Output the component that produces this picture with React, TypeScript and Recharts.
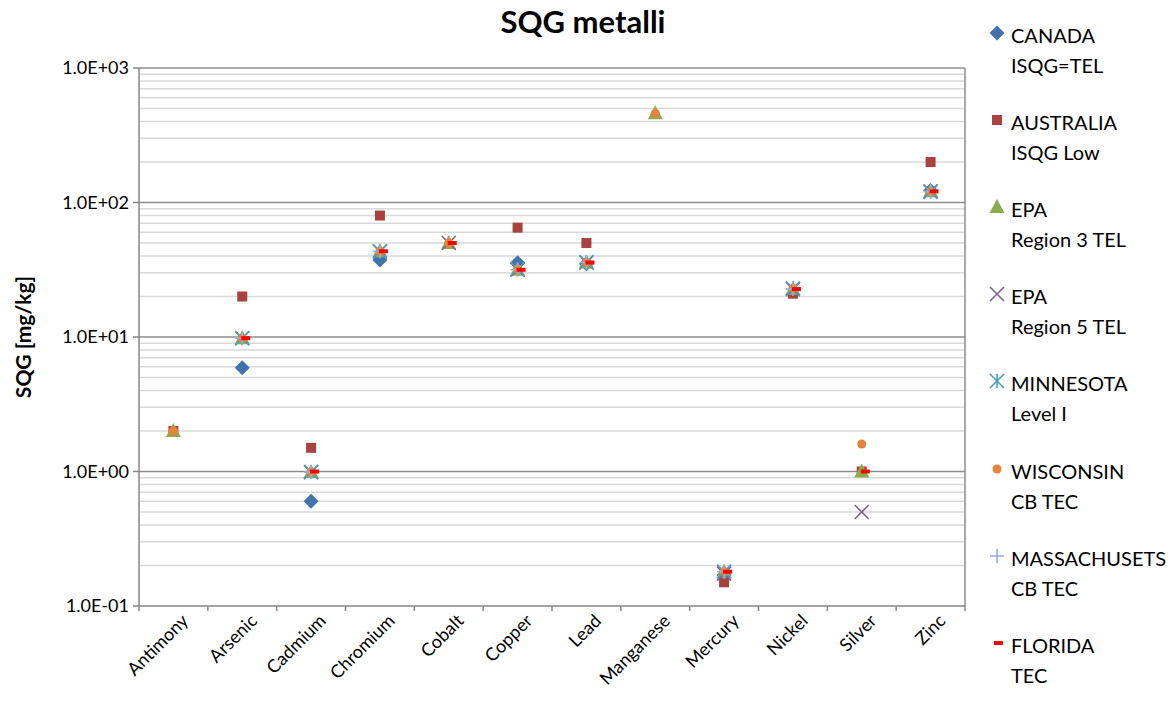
import React from 'react';
import {
  ScatterChart,
  Scatter,
  XAxis,
  YAxis,
  ReferenceLine,
} from 'recharts';

const FONT = "Lato, 'Liberation Sans', sans-serif";

// categories and values (mg/kg), null = no guideline
const metals = [
  'Antimony', 'Arsenic', 'Cadmium', 'Chromium', 'Cobalt', 'Copper',
  'Lead', 'Manganese', 'Mercury', 'Nickel', 'Silver', 'Zinc',
];
const canada = [null, 5.9, 0.6, 37.3, null, 35.7, 35, null, 0.17, null, null, 123];
const australia = [2, 20, 1.5, 80, null, 65, 50, null, 0.15, 21, 1, 200];
const epaRegion3 = [2, 9.8, 0.99, 43.4, 50, 31.6, 35.8, 460, 0.18, 22.7, 1, 121];
const epaRegion5 = [null, 9.79, 0.99, 43.4, 50, 31.6, 35.8, null, 0.174, 22.7, 0.5, 121];
const minnesota = [null, 9.8, 0.99, 43, null, 32, 36, null, 0.18, 23, null, 120];
const wisconsin = [2, 9.8, 0.99, 43, 50, 32, 36, 460, 0.18, 23, 1.6, 120];
const massachusetts = [null, 9.79, 0.99, 43.4, null, 31.6, 35.8, null, 0.18, 22.7, null, 121];
const florida = [null, 9.8, 1, 43.4, 50, 31.6, 35.8, null, 0.18, 22.7, 1, 121];

const majorTicks = [0.1, 1, 10, 100, 1000];
const minorTicks = [
  0.2, 0.3, 0.4, 0.5, 0.6, 0.7, 0.8, 0.9,
  2, 3, 4, 5, 6, 7, 8, 9,
  20, 30, 40, 50, 60, 70, 80, 90,
  200, 300, 400, 500, 600, 700, 800, 900,
];

const toPoints = (values: (number | null)[]) =>
  values
    .map((v, i) => ({ x: i + 0.5, y: v, name: metals[i] }))
    .filter((p) => p.y !== null);

// marker shapes, Excel style
type MP = { cx?: number; cy?: number };
const ok = (p: MP) => Number.isFinite(p.cx) && Number.isFinite(p.cy);

const Diamond = (p: MP) =>
  ok(p) ? (
    <path
      d={`M${p.cx! - 7.5},${p.cy!} L${p.cx!},${p.cy! - 7.5} L${p.cx! + 7.5},${p.cy!} L${p.cx!},${p.cy! + 7.5} Z`}
      fill="#4272AE"
    />
  ) : <g />;
const Square = (p: MP) =>
  ok(p) ? <rect x={p.cx! - 5} y={p.cy! - 5} width={10} height={10} fill="#A8423F" /> : <g />;
const Triangle = (p: MP) =>
  ok(p) ? (
    <path
      d={`M${p.cx! - 7.5},${p.cy! + 6} L${p.cx!},${p.cy! - 8} L${p.cx! + 7.5},${p.cy! + 6} Z`}
      fill="#8CAB4C"
    />
  ) : <g />;
const Cross = (p: MP) =>
  ok(p) ? (
    <path
      d={`M${p.cx! - 7},${p.cy! - 7} L${p.cx! + 7},${p.cy! + 7} M${p.cx! - 7},${p.cy! + 7} L${p.cx! + 7},${p.cy! - 7}`}
      stroke="#7D5F9E"
      strokeWidth={1.6}
    />
  ) : <g />;
const Star = (p: MP) =>
  ok(p) ? (
    <path
      d={`M${p.cx! - 7},${p.cy! - 7} L${p.cx! + 7},${p.cy! + 7} M${p.cx! - 7},${p.cy! + 7} L${p.cx! + 7},${p.cy! - 7} M${p.cx!},${p.cy! - 7} L${p.cx!},${p.cy! + 7}`}
      stroke="#4BA0BE"
      strokeWidth={1.6}
    />
  ) : <g />;
const Dot = (p: MP) =>
  ok(p) ? <circle cx={p.cx} cy={p.cy} r={4.5} fill="#E2843B" /> : <g />;
const Plus = (p: MP) =>
  ok(p) ? (
    <path
      d={`M${p.cx! - 7},${p.cy!} L${p.cx! + 7},${p.cy!} M${p.cx!},${p.cy! - 7} L${p.cx!},${p.cy! + 7}`}
      stroke="#94AFD4"
      strokeWidth={1.6}
    />
  ) : <g />;
const Dash = (p: MP) =>
  ok(p) ? <rect x={p.cx! - 1} y={p.cy! - 2} width={9} height={4} fill="#FF0000" /> : <g />;

const series = [
  { name: 'CANADA', sub: 'ISQG=TEL', values: canada, shape: Diamond },
  { name: 'AUSTRALIA', sub: 'ISQG Low', values: australia, shape: Square },
  { name: 'EPA', sub: 'Region 3 TEL', values: epaRegion3, shape: Triangle },
  { name: 'EPA', sub: 'Region 5 TEL', values: epaRegion5, shape: Cross },
  { name: 'MINNESOTA', sub: 'Level I', values: minnesota, shape: Star },
  { name: 'WISCONSIN', sub: 'CB TEC', values: wisconsin, shape: Dot },
  { name: 'MASSACHUSETS', sub: 'CB TEC', values: massachusetts, shape: Plus },
  { name: 'FLORIDA', sub: 'TEC', values: florida, shape: Dash },
];

const formatSci = (v: number) => {
  const [m, e] = v.toExponential(1).split('e');
  const n = Number(e);
  return `${m}E${n < 0 ? '-' : '+'}${String(Math.abs(n)).padStart(2, '0')}`;
};

// integer positions get a tick mark, half positions get the rotated name
const XTick = ({ x, y, payload }: any) => {
  const v = payload.value as number;
  if (Number.isInteger(v)) {
    return <line x1={x} y1={y} x2={x} y2={y + 5} stroke="#868686" strokeWidth={1.5} />;
  }
  const name = metals[Math.floor(v)];
  const tx = x + 16;
  const ty = y + 16;
  return (
    <text
      x={tx}
      y={ty}
      textAnchor="end"
      transform={`rotate(-45, ${tx}, ${ty})`}
      fontSize={18}
      fontFamily={FONT}
      fill="#000"
    >
      {name}
    </text>
  );
};

const YLabel = ({ viewBox }: any) => {
  const cx = viewBox.x + 22;
  const cy = viewBox.y + viewBox.height / 2;
  return (
    <text
      x={cx}
      y={cy}
      transform={`rotate(-90, ${cx}, ${cy})`}
      textAnchor="middle"
      dominantBaseline="central"
      fontSize={21}
      fontWeight="bold"
      fontFamily={FONT}
      fill="#000"
    >
      SQG [mg/kg]
    </text>
  );
};

const xTicks = Array.from({ length: 25 }, (_, i) => i / 2);

function LegendIcon({ index }: { index: number }) {
  const Shape = series[index].shape;
  return (
    <svg width={24} height={20} style={{ position: 'absolute', left: 0, top: 3 }}>
      <Shape cx={index === 7 ? 10 : 12} cy={10} />
    </svg>
  );
}

export default function App() {
  return (
    <div style={{ position: 'absolute', left: 0, top: 0, width: 1173, height: 706, background: '#fff' }}>
      <div
        style={{
          position: 'absolute',
          left: 383,
          width: 400,
          top: 2,
          textAlign: 'center',
          fontFamily: FONT,
          fontWeight: 'bold',
          fontSize: 31,
          color: '#000',
        }}
      >
        SQG metalli
      </div>
      <ScatterChart width={1173} height={706} margin={{ top: 68, right: 208, bottom: 0, left: 0 }}>
        <XAxis
          type="number"
          dataKey="x"
          domain={[0, 12]}
          ticks={xTicks}
          interval={0}
          tick={<XTick />}
          tickLine={false}
          tickSize={0}
          tickMargin={0}
          height={100}
          axisLine={{ stroke: '#868686', strokeWidth: 1.5 }}
        />
        <YAxis
          type="number"
          dataKey="y"
          scale="log"
          domain={[0.1, 1000]}
          allowDataOverflow
          ticks={majorTicks}
          interval={0}
          tickFormatter={formatSci}
          width={139}
          tickSize={6}
          tickMargin={4}
          tickLine={{ stroke: '#868686', strokeWidth: 1.5 }}
          axisLine={{ stroke: '#868686', strokeWidth: 1.5 }}
          tick={{ fontSize: 18, fontFamily: FONT, fill: '#000' }}
          label={<YLabel />}
        />
        {minorTicks.map((v) => (
          <ReferenceLine key={`mi${v}`} y={v} stroke="#D9D9D9" strokeWidth={1.5} />
        ))}
        {majorTicks.slice(1).map((v) => (
          <ReferenceLine key={`ma${v}`} y={v} stroke="#8C8C8C" strokeWidth={1.5} />
        ))}
        <ReferenceLine x={12} stroke="#8C8C8C" strokeWidth={1.5} />
        {series.map((s, i) => (
          <Scatter
            key={i}
            name={`${s.name} ${s.sub}`}
            data={toPoints(s.values)}
            shape={s.shape}
            isAnimationActive={false}
          />
        ))}
      </ScatterChart>
      <div style={{ position: 'absolute', left: 985, top: 20, fontFamily: FONT, fontSize: 20, color: '#000' }}>
        {series.map((s, i) => (
          <div key={i} style={{ position: 'absolute', left: 0, top: i * 87.1, width: 190, height: 70 }}>
            <LegendIcon index={i} />
            <div style={{ position: 'absolute', left: 26, top: 0, lineHeight: '30px', whiteSpace: 'nowrap' }}>
              {s.name}
              <br />
              {s.sub}
            </div>
          </div>
        ))}
      </div>
    </div>
  );
}
